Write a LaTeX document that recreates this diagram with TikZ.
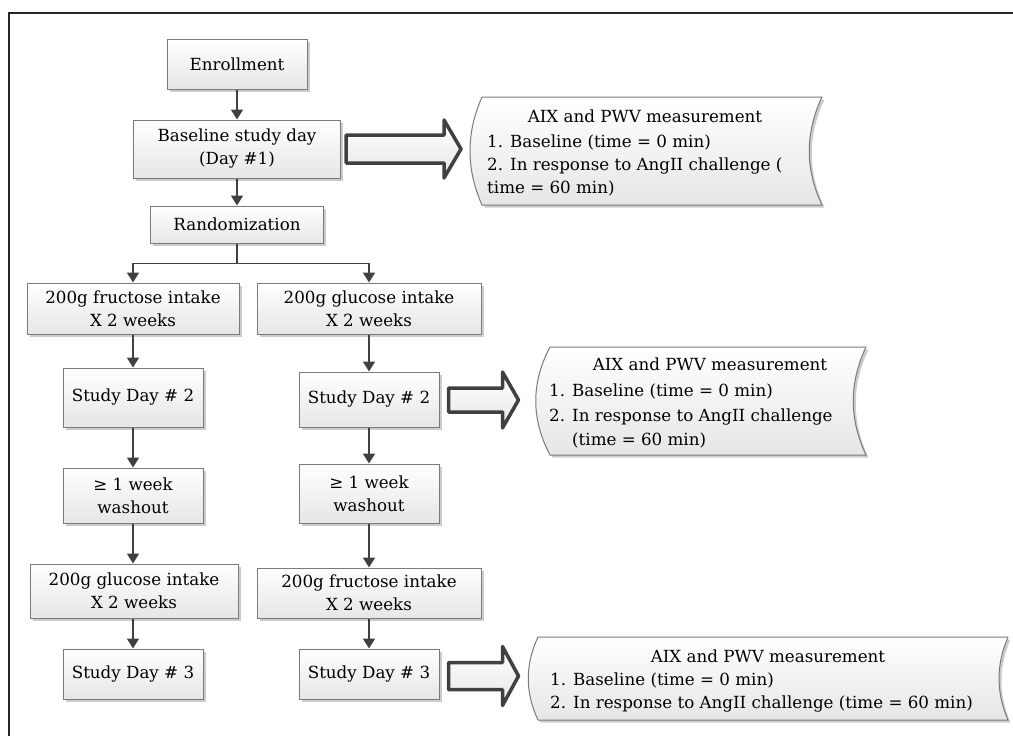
\documentclass[tikz,border=0pt]{standalone}
\usepackage{fontspec}
\setmainfont{DejaVu Serif}
\usetikzlibrary{arrows.meta,shadows,calc}
\definecolor{boxline}{HTML}{7A7A7A}
\definecolor{boxfill}{HTML}{E6E6E6}
\definecolor{arrcol}{HTML}{404040}
\begin{document}
\begin{tikzpicture}[x=1pt,y=-1pt,
  every node/.style={font=\fontsize{16.7}{23}\selectfont},
  box/.style={rectangle, draw=boxline, line width=1pt, top color=white, bottom color=boxfill,
    align=center, inner sep=0pt,
    drop shadow={shadow xshift=2.5pt,shadow yshift=-2.5pt,fill=black,opacity=0.2}},
  arr/.style={draw=arrcol, line width=1.8pt, -{Triangle[length=10pt,width=12pt]}},
  blockarr/.style={draw=arrcol, line width=3.5pt, line join=round, top color=white, bottom color=boxfill},
  sdata/.style={draw=boxline, line width=1pt, top color=white, bottom color=boxfill,
    drop shadow={shadow xshift=2.5pt,shadow yshift=-2.5pt,fill=black,opacity=0.2}},
  txt/.style={inner sep=0pt}
]
\useasboundingbox (0,0) rectangle (1013,736);
% frame
\draw[line width=1.5pt, black!85] (9,736) -- (9,13) -- (1013,13);

% main column
\node[box, minimum width=140pt, minimum height=50pt] (enr) at (237,64) {Enrollment};
\node[box, minimum width=207pt, minimum height=58pt] (base) at (237,149) {Baseline study day\\(Day \#1)};
\node[box, minimum width=173pt, minimum height=37pt] (rand) at (237,224.5) {Randomization};

% left column
\node[box, minimum width=212pt, minimum height=51pt] (fru1) at (133,308.5) {200g fructose intake\\X 2 weeks};
\node[box, minimum width=140pt, minimum height=59pt] (sd2l) at (133,397.5) {Study Day \# 2};
\node[box, minimum width=140pt, minimum height=55pt] (wl) at (133,495.5) {≥ 1 week\\washout};
\node[box, minimum width=208pt, minimum height=54pt] (glu2) at (134,591) {200g glucose intake\\X 2 weeks};
\node[box, minimum width=140pt, minimum height=50pt] (sd3l) at (133,674) {Study Day \# 3};

% right column
\node[box, minimum width=224pt, minimum height=51pt] (glu1) at (369,308.5) {200g glucose intake\\X 2 weeks};
\node[box, minimum width=140pt, minimum height=55pt] (sd2r) at (369,399.5) {Study Day \# 2};
\node[box, minimum width=140pt, minimum height=59pt] (wr) at (369,493.5) {≥ 1 week\\washout};
\node[box, minimum width=224pt, minimum height=50pt] (fru2) at (369,593) {200g fructose intake\\X 2 weeks};
\node[box, minimum width=140pt, minimum height=50pt] (sd3r) at (369,674) {Study Day \# 3};

% connectors
\draw[arr] (enr) -- (base);
\draw[arr] (base) -- (rand);
\draw[draw=arrcol, line width=1.8pt] (rand.south) -- ++(0,20) coordinate (split);
\draw[arr] (split) -| (fru1.north);
\draw[arr] (split) -| (glu1.north);
\draw[arr] (fru1) -- (sd2l);
\draw[arr] (sd2l) -- (wl);
\draw[arr] (wl) -- (sd2l.south |- glu2.north);
\draw[arr] (glu2.south -| sd3l) -- (sd3l);
\draw[arr] (glu1) -- (sd2r);
\draw[arr] (sd2r) -- (wr);
\draw[arr] (wr) -- (fru2);
\draw[arr] (fru2) -- (sd3r);

% block arrows
\draw[blockarr] ($(base.east)+(5,0)$) ++(0,-14) -- ++(98,0) -- ++(0,-15) -- ++(17,29) -- ++(-17,29) -- ++(0,-15) -- ++(-98,0) -- cycle;
\draw[blockarr] ($(sd2r.east)+(9,0.5)$) ++(0,-12) -- ++(54,0) -- ++(0,-16) -- ++(16,28) -- ++(-16,28) -- ++(0,-16) -- ++(-54,0) -- cycle;
\draw[blockarr] ($(sd3r.east)+(9,2)$) ++(0,-13.5) -- ++(54,0) -- ++(0,-16) -- ++(16,29.5) -- ++(-16,29.5) -- ++(0,-16) -- ++(-54,0) -- cycle;

% stored data 1
\draw[sdata] (482,97) -- (822,97) .. controls (805,133) and (805,169) .. (822,205)
  -- (482,205) .. controls (466,169) and (466,133) .. (482,97) -- cycle;
\node[txt, anchor=base] (m1t) at (645,122) {AIX and PWV measurement};
\node[txt, anchor=base west] (m1a) at (487,147) {1. Baseline (time = 0 min)};
\node[txt, anchor=base west] (m1b) at (487,170) {2. In response to AngII challenge (};
\node[txt, anchor=base west] (m1c) at (487,193) {time = 60 min)};

% stored data 2
\draw[sdata] (550,347) -- (866,347) .. controls (849,383) and (849,419) .. (866,455)
  -- (550,455) .. controls (531,419) and (531,383) .. (550,347) -- cycle;
\node[txt, anchor=base] (m2t) at (710,370) {AIX and PWV measurement};
\node[txt, anchor=base west] (m2a) at (549,396) {1. Baseline (time = 0 min)};
\node[txt, anchor=base west] (m2b) at (549,421) {2. In response to AngII challenge};
\node[txt, anchor=base west] (m2c) at (572,445) {(time = 60 min)};

% stored data 3
\draw[sdata] (538,637) -- (1008,637) .. controls (996,665) and (996,692) .. (1008,720)
  -- (538,720) .. controls (525,692) and (525,665) .. (538,637) -- cycle;
\node[txt, anchor=base] (m3t) at (768,662) {AIX and PWV measurement};
\node[txt, anchor=base west] (m3a) at (550,685) {1. Baseline (time = 0 min)};
\node[txt, anchor=base west] (m3b) at (550,708) {2. In response to AngII challenge (time = 60 min)};
\end{tikzpicture}
\end{document}
